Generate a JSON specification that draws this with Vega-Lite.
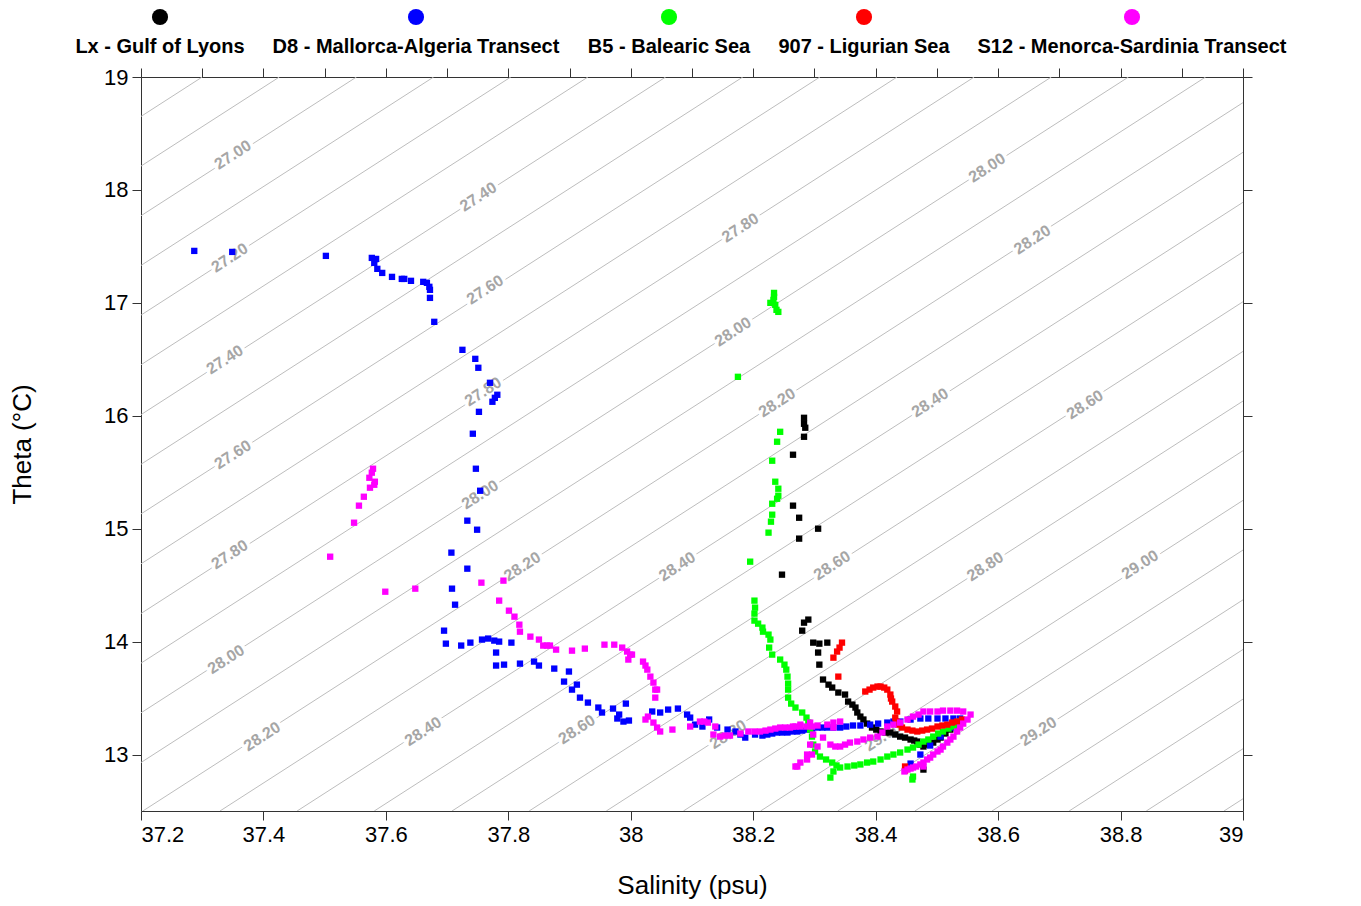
{
  "$schema": "https://vega.github.io/schema/vega-lite/v6.json",
  "width": 1102,
  "height": 734,
  "autosize": {"type": "none"},
  "padding": {"left": 141, "top": 77, "right": 118, "bottom": 95},
  "background": "white",
  "config": {
    "view": {"stroke": null},
    "font": "Liberation Sans",
    "axis": {
      "domainColor": "#333333", "tickColor": "#333333", "tickSize": 9, "tickWidth": 1, "domainWidth": 1,
      "grid": false, "labelFont": "Liberation Sans", "labelFontSize": 22, "labelColor": "#000000",
      "titleFont": "Liberation Sans", "titleFontSize": 26, "titleFontWeight": "normal", "titleColor": "#000000",
      "labelPadding": 4
    }
  },
  "datasets": {
    "iso": [
      {"sig": 26.8, "s": 35.438, "t": 12.5}, {"sig": 26.8, "s": 37.300, "t": 19},
      {"sig": 26.9, "s": 35.564, "t": 12.5}, {"sig": 26.9, "s": 37.426, "t": 19},
      {"sig": 27.0, "s": 35.690, "t": 12.5}, {"sig": 27.0, "s": 37.552, "t": 19},
      {"sig": 27.1, "s": 35.816, "t": 12.5}, {"sig": 27.1, "s": 37.678, "t": 19},
      {"sig": 27.2, "s": 35.942, "t": 12.5}, {"sig": 27.2, "s": 37.804, "t": 19},
      {"sig": 27.3, "s": 36.068, "t": 12.5}, {"sig": 27.3, "s": 37.930, "t": 19},
      {"sig": 27.4, "s": 36.194, "t": 12.5}, {"sig": 27.4, "s": 38.057, "t": 19},
      {"sig": 27.5, "s": 36.320, "t": 12.5}, {"sig": 27.5, "s": 38.183, "t": 19},
      {"sig": 27.6, "s": 36.446, "t": 12.5}, {"sig": 27.6, "s": 38.309, "t": 19},
      {"sig": 27.7, "s": 36.573, "t": 12.5}, {"sig": 27.7, "s": 38.435, "t": 19},
      {"sig": 27.8, "s": 36.699, "t": 12.5}, {"sig": 27.8, "s": 38.561, "t": 19},
      {"sig": 27.9, "s": 36.825, "t": 12.5}, {"sig": 27.9, "s": 38.687, "t": 19},
      {"sig": 28.0, "s": 36.951, "t": 12.5}, {"sig": 28.0, "s": 38.813, "t": 19},
      {"sig": 28.1, "s": 37.077, "t": 12.5}, {"sig": 28.1, "s": 38.939, "t": 19},
      {"sig": 28.2, "s": 37.203, "t": 12.5}, {"sig": 28.2, "s": 39.065, "t": 19},
      {"sig": 28.3, "s": 37.329, "t": 12.5}, {"sig": 28.3, "s": 39.191, "t": 19},
      {"sig": 28.4, "s": 37.455, "t": 12.5}, {"sig": 28.4, "s": 39.318, "t": 19},
      {"sig": 28.5, "s": 37.581, "t": 12.5}, {"sig": 28.5, "s": 39.444, "t": 19},
      {"sig": 28.6, "s": 37.708, "t": 12.5}, {"sig": 28.6, "s": 39.570, "t": 19},
      {"sig": 28.7, "s": 37.834, "t": 12.5}, {"sig": 28.7, "s": 39.696, "t": 19},
      {"sig": 28.8, "s": 37.960, "t": 12.5}, {"sig": 28.8, "s": 39.822, "t": 19},
      {"sig": 28.9, "s": 38.086, "t": 12.5}, {"sig": 28.9, "s": 39.948, "t": 19},
      {"sig": 29.0, "s": 38.212, "t": 12.5}, {"sig": 29.0, "s": 40.074, "t": 19},
      {"sig": 29.1, "s": 38.338, "t": 12.5}, {"sig": 29.1, "s": 40.200, "t": 19},
      {"sig": 29.2, "s": 38.464, "t": 12.5}, {"sig": 29.2, "s": 40.327, "t": 19},
      {"sig": 29.3, "s": 38.590, "t": 12.5}, {"sig": 29.3, "s": 40.453, "t": 19},
      {"sig": 29.4, "s": 38.716, "t": 12.5}, {"sig": 29.4, "s": 40.579, "t": 19},
      {"sig": 29.5, "s": 38.842, "t": 12.5}, {"sig": 29.5, "s": 40.705, "t": 19},
      {"sig": 29.6, "s": 38.969, "t": 12.5}, {"sig": 29.6, "s": 40.831, "t": 19}
    ],
    "labels": [
      {"lab": "27.00", "s": 37.350, "t": 18.310},
      {"lab": "27.20", "s": 37.345, "t": 17.398},
      {"lab": "27.40", "s": 37.337, "t": 16.496},
      {"lab": "27.60", "s": 37.350, "t": 15.655},
      {"lab": "27.80", "s": 37.345, "t": 14.770},
      {"lab": "28.00", "s": 37.339, "t": 13.841},
      {"lab": "28.20", "s": 37.398, "t": 13.159},
      {"lab": "27.40", "s": 37.751, "t": 17.938},
      {"lab": "27.60", "s": 37.762, "t": 17.115},
      {"lab": "27.80", "s": 37.759, "t": 16.212},
      {"lab": "28.00", "s": 37.754, "t": 15.301},
      {"lab": "28.20", "s": 37.823, "t": 14.664},
      {"lab": "28.40", "s": 37.661, "t": 13.204},
      {"lab": "27.80", "s": 38.179, "t": 17.664},
      {"lab": "28.00", "s": 38.167, "t": 16.743},
      {"lab": "28.20", "s": 38.239, "t": 16.115},
      {"lab": "28.40", "s": 38.489, "t": 16.115},
      {"lab": "28.40", "s": 38.076, "t": 14.664},
      {"lab": "28.60", "s": 38.329, "t": 14.673},
      {"lab": "28.80", "s": 38.579, "t": 14.664},
      {"lab": "29.00", "s": 38.832, "t": 14.681},
      {"lab": "28.60", "s": 37.912, "t": 13.221},
      {"lab": "28.80", "s": 38.159, "t": 13.177},
      {"lab": "29.00", "s": 38.412, "t": 13.159},
      {"lab": "29.20", "s": 38.666, "t": 13.204},
      {"lab": "28.00", "s": 38.582, "t": 18.195},
      {"lab": "28.20", "s": 38.656, "t": 17.558},
      {"lab": "28.60", "s": 38.742, "t": 16.097}
    ],
    "pts": [
      {"k": "Lx", "s": 38.283, "t": 15.982}, {"k": "Lx", "s": 38.283, "t": 15.929}, {"k": "Lx", "s": 38.285, "t": 15.894},
      {"k": "Lx", "s": 38.283, "t": 15.814}, {"k": "Lx", "s": 38.265, "t": 15.655}, {"k": "Lx", "s": 38.265, "t": 15.204},
      {"k": "Lx", "s": 38.275, "t": 15.097}, {"k": "Lx", "s": 38.306, "t": 15.000}, {"k": "Lx", "s": 38.275, "t": 14.912},
      {"k": "Lx", "s": 38.247, "t": 14.593}, {"k": "Lx", "s": 38.283, "t": 14.168}, {"k": "Lx", "s": 38.290, "t": 14.195},
      {"k": "Lx", "s": 38.280, "t": 14.097}, {"k": "Lx", "s": 38.298, "t": 13.991}, {"k": "Lx", "s": 38.308, "t": 13.982},
      {"k": "Lx", "s": 38.321, "t": 13.991}, {"k": "Lx", "s": 38.306, "t": 13.903}, {"k": "Lx", "s": 38.308, "t": 13.796},
      {"k": "Lx", "s": 38.314, "t": 13.664}, {"k": "Lx", "s": 38.323, "t": 13.619}, {"k": "Lx", "s": 38.329, "t": 13.593},
      {"k": "Lx", "s": 38.339, "t": 13.549}, {"k": "Lx", "s": 38.350, "t": 13.531}, {"k": "Lx", "s": 38.355, "t": 13.469},
      {"k": "Lx", "s": 38.362, "t": 13.442}, {"k": "Lx", "s": 38.367, "t": 13.416}, {"k": "Lx", "s": 38.370, "t": 13.372},
      {"k": "Lx", "s": 38.375, "t": 13.336}, {"k": "Lx", "s": 38.380, "t": 13.310}, {"k": "Lx", "s": 38.386, "t": 13.274},
      {"k": "Lx", "s": 38.394, "t": 13.239}, {"k": "Lx", "s": 38.401, "t": 13.221}, {"k": "Lx", "s": 38.408, "t": 13.204},
      {"k": "Lx", "s": 38.416, "t": 13.195}, {"k": "Lx", "s": 38.424, "t": 13.195}, {"k": "Lx", "s": 38.432, "t": 13.177},
      {"k": "Lx", "s": 38.440, "t": 13.159}, {"k": "Lx", "s": 38.448, "t": 13.150}, {"k": "Lx", "s": 38.457, "t": 13.133},
      {"k": "Lx", "s": 38.463, "t": 13.124}, {"k": "Lx", "s": 38.468, "t": 13.115}, {"k": "Lx", "s": 38.473, "t": 13.088},
      {"k": "Lx", "s": 38.478, "t": 13.071}, {"k": "Lx", "s": 38.486, "t": 13.088}, {"k": "Lx", "s": 38.494, "t": 13.106},
      {"k": "Lx", "s": 38.501, "t": 13.133}, {"k": "Lx", "s": 38.506, "t": 13.150}, {"k": "Lx", "s": 38.514, "t": 13.186},
      {"k": "Lx", "s": 38.522, "t": 13.221}, {"k": "Lx", "s": 38.527, "t": 13.248}, {"k": "Lx", "s": 38.478, "t": 12.867},

      {"k": "D8", "s": 37.287, "t": 17.460}, {"k": "D8", "s": 37.349, "t": 17.451}, {"k": "D8", "s": 37.502, "t": 17.416},
      {"k": "D8", "s": 37.577, "t": 17.398}, {"k": "D8", "s": 37.584, "t": 17.389}, {"k": "D8", "s": 37.581, "t": 17.354},
      {"k": "D8", "s": 37.586, "t": 17.301}, {"k": "D8", "s": 37.594, "t": 17.265}, {"k": "D8", "s": 37.610, "t": 17.230},
      {"k": "D8", "s": 37.626, "t": 17.212}, {"k": "D8", "s": 37.630, "t": 17.212}, {"k": "D8", "s": 37.641, "t": 17.195},
      {"k": "D8", "s": 37.661, "t": 17.186}, {"k": "D8", "s": 37.667, "t": 17.177}, {"k": "D8", "s": 37.671, "t": 17.142},
      {"k": "D8", "s": 37.672, "t": 17.115}, {"k": "D8", "s": 37.672, "t": 17.044}, {"k": "D8", "s": 37.679, "t": 16.832},
      {"k": "D8", "s": 37.725, "t": 16.584}, {"k": "D8", "s": 37.746, "t": 16.504}, {"k": "D8", "s": 37.751, "t": 16.425},
      {"k": "D8", "s": 37.770, "t": 16.292}, {"k": "D8", "s": 37.782, "t": 16.186}, {"k": "D8", "s": 37.778, "t": 16.159},
      {"k": "D8", "s": 37.774, "t": 16.124}, {"k": "D8", "s": 37.752, "t": 16.035}, {"k": "D8", "s": 37.742, "t": 15.841},
      {"k": "D8", "s": 37.747, "t": 15.531}, {"k": "D8", "s": 37.754, "t": 15.336}, {"k": "D8", "s": 37.733, "t": 15.071},
      {"k": "D8", "s": 37.749, "t": 14.991}, {"k": "D8", "s": 37.707, "t": 14.788}, {"k": "D8", "s": 37.733, "t": 14.646},
      {"k": "D8", "s": 37.708, "t": 14.469}, {"k": "D8", "s": 37.713, "t": 14.327}, {"k": "D8", "s": 37.695, "t": 14.097},
      {"k": "D8", "s": 37.698, "t": 13.982}, {"k": "D8", "s": 37.723, "t": 13.965}, {"k": "D8", "s": 37.738, "t": 13.991},
      {"k": "D8", "s": 37.757, "t": 14.018}, {"k": "D8", "s": 37.767, "t": 14.027}, {"k": "D8", "s": 37.777, "t": 14.009},
      {"k": "D8", "s": 37.785, "t": 14.000}, {"k": "D8", "s": 37.780, "t": 13.903}, {"k": "D8", "s": 37.780, "t": 13.788},
      {"k": "D8", "s": 37.793, "t": 13.796}, {"k": "D8", "s": 37.805, "t": 13.991}, {"k": "D8", "s": 37.819, "t": 13.805},
      {"k": "D8", "s": 37.842, "t": 13.823}, {"k": "D8", "s": 37.850, "t": 13.788}, {"k": "D8", "s": 37.875, "t": 13.761},
      {"k": "D8", "s": 37.899, "t": 13.735}, {"k": "D8", "s": 37.891, "t": 13.646}, {"k": "D8", "s": 37.912, "t": 13.619},
      {"k": "D8", "s": 37.904, "t": 13.575}, {"k": "D8", "s": 37.917, "t": 13.504}, {"k": "D8", "s": 37.930, "t": 13.460},
      {"k": "D8", "s": 37.947, "t": 13.416}, {"k": "D8", "s": 37.953, "t": 13.372}, {"k": "D8", "s": 37.971, "t": 13.407},
      {"k": "D8", "s": 37.981, "t": 13.354}, {"k": "D8", "s": 37.978, "t": 13.319}, {"k": "D8", "s": 37.988, "t": 13.292},
      {"k": "D8", "s": 37.997, "t": 13.301}, {"k": "D8", "s": 37.992, "t": 13.451}, {"k": "D8", "s": 38.035, "t": 13.381},
      {"k": "D8", "s": 38.048, "t": 13.372}, {"k": "D8", "s": 38.061, "t": 13.398}, {"k": "D8", "s": 38.077, "t": 13.407},
      {"k": "D8", "s": 38.092, "t": 13.354}, {"k": "D8", "s": 38.097, "t": 13.327}, {"k": "D8", "s": 38.105, "t": 13.265},
      {"k": "D8", "s": 38.117, "t": 13.248}, {"k": "D8", "s": 38.128, "t": 13.310}, {"k": "D8", "s": 38.141, "t": 13.239},
      {"k": "D8", "s": 38.158, "t": 13.221}, {"k": "D8", "s": 38.171, "t": 13.204}, {"k": "D8", "s": 38.179, "t": 13.177},
      {"k": "D8", "s": 38.187, "t": 13.150}, {"k": "D8", "s": 38.203, "t": 13.177}, {"k": "D8", "s": 38.215, "t": 13.168},
      {"k": "D8", "s": 38.223, "t": 13.177}, {"k": "D8", "s": 38.231, "t": 13.186}, {"k": "D8", "s": 38.239, "t": 13.195},
      {"k": "D8", "s": 38.247, "t": 13.195}, {"k": "D8", "s": 38.256, "t": 13.195}, {"k": "D8", "s": 38.264, "t": 13.204},
      {"k": "D8", "s": 38.272, "t": 13.204}, {"k": "D8", "s": 38.280, "t": 13.212}, {"k": "D8", "s": 38.288, "t": 13.221},
      {"k": "D8", "s": 38.296, "t": 13.230}, {"k": "D8", "s": 38.305, "t": 13.239}, {"k": "D8", "s": 38.313, "t": 13.239},
      {"k": "D8", "s": 38.321, "t": 13.239}, {"k": "D8", "s": 38.331, "t": 13.239}, {"k": "D8", "s": 38.342, "t": 13.239},
      {"k": "D8", "s": 38.352, "t": 13.248}, {"k": "D8", "s": 38.363, "t": 13.257}, {"k": "D8", "s": 38.375, "t": 13.257},
      {"k": "D8", "s": 38.391, "t": 13.265}, {"k": "D8", "s": 38.404, "t": 13.274}, {"k": "D8", "s": 38.419, "t": 13.283},
      {"k": "D8", "s": 38.429, "t": 13.292}, {"k": "D8", "s": 38.440, "t": 13.292}, {"k": "D8", "s": 38.457, "t": 13.310},
      {"k": "D8", "s": 38.473, "t": 13.319}, {"k": "D8", "s": 38.486, "t": 13.319}, {"k": "D8", "s": 38.501, "t": 13.319},
      {"k": "D8", "s": 38.514, "t": 13.319}, {"k": "D8", "s": 38.527, "t": 13.319}, {"k": "D8", "s": 38.538, "t": 13.319},
      {"k": "D8", "s": 38.522, "t": 13.239}, {"k": "D8", "s": 38.506, "t": 13.159}, {"k": "D8", "s": 38.489, "t": 13.080},
      {"k": "D8", "s": 38.473, "t": 13.000}, {"k": "D8", "s": 38.457, "t": 12.920},

      {"k": "B5", "s": 38.234, "t": 17.088}, {"k": "B5", "s": 38.234, "t": 17.053}, {"k": "B5", "s": 38.233, "t": 17.027},
      {"k": "B5", "s": 38.228, "t": 17.000}, {"k": "B5", "s": 38.236, "t": 16.982}, {"k": "B5", "s": 38.238, "t": 16.938},
      {"k": "B5", "s": 38.241, "t": 16.920}, {"k": "B5", "s": 38.175, "t": 16.345}, {"k": "B5", "s": 38.244, "t": 15.858},
      {"k": "B5", "s": 38.239, "t": 15.770}, {"k": "B5", "s": 38.231, "t": 15.602}, {"k": "B5", "s": 38.236, "t": 15.416},
      {"k": "B5", "s": 38.241, "t": 15.354}, {"k": "B5", "s": 38.241, "t": 15.292}, {"k": "B5", "s": 38.239, "t": 15.265},
      {"k": "B5", "s": 38.231, "t": 15.221}, {"k": "B5", "s": 38.231, "t": 15.124}, {"k": "B5", "s": 38.229, "t": 15.062},
      {"k": "B5", "s": 38.225, "t": 14.965}, {"k": "B5", "s": 38.195, "t": 14.708}, {"k": "B5", "s": 38.202, "t": 14.363},
      {"k": "B5", "s": 38.203, "t": 14.301}, {"k": "B5", "s": 38.202, "t": 14.248}, {"k": "B5", "s": 38.202, "t": 14.186},
      {"k": "B5", "s": 38.208, "t": 14.159}, {"k": "B5", "s": 38.215, "t": 14.124}, {"k": "B5", "s": 38.216, "t": 14.088},
      {"k": "B5", "s": 38.225, "t": 14.062}, {"k": "B5", "s": 38.228, "t": 14.018}, {"k": "B5", "s": 38.226, "t": 13.947},
      {"k": "B5", "s": 38.231, "t": 13.885}, {"k": "B5", "s": 38.244, "t": 13.841}, {"k": "B5", "s": 38.251, "t": 13.796},
      {"k": "B5", "s": 38.254, "t": 13.752}, {"k": "B5", "s": 38.256, "t": 13.690}, {"k": "B5", "s": 38.257, "t": 13.628},
      {"k": "B5", "s": 38.257, "t": 13.575}, {"k": "B5", "s": 38.257, "t": 13.504}, {"k": "B5", "s": 38.262, "t": 13.451},
      {"k": "B5", "s": 38.269, "t": 13.416}, {"k": "B5", "s": 38.280, "t": 13.372}, {"k": "B5", "s": 38.287, "t": 13.327},
      {"k": "B5", "s": 38.290, "t": 13.283}, {"k": "B5", "s": 38.293, "t": 13.221}, {"k": "B5", "s": 38.296, "t": 13.159},
      {"k": "B5", "s": 38.298, "t": 13.088}, {"k": "B5", "s": 38.301, "t": 13.027}, {"k": "B5", "s": 38.309, "t": 12.982},
      {"k": "B5", "s": 38.319, "t": 12.956}, {"k": "B5", "s": 38.329, "t": 12.929}, {"k": "B5", "s": 38.336, "t": 12.903},
      {"k": "B5", "s": 38.331, "t": 12.850}, {"k": "B5", "s": 38.326, "t": 12.796}, {"k": "B5", "s": 38.342, "t": 12.885},
      {"k": "B5", "s": 38.354, "t": 12.894}, {"k": "B5", "s": 38.365, "t": 12.903}, {"k": "B5", "s": 38.375, "t": 12.912},
      {"k": "B5", "s": 38.386, "t": 12.929}, {"k": "B5", "s": 38.396, "t": 12.938}, {"k": "B5", "s": 38.408, "t": 12.956},
      {"k": "B5", "s": 38.419, "t": 12.982}, {"k": "B5", "s": 38.429, "t": 13.000}, {"k": "B5", "s": 38.440, "t": 13.018},
      {"k": "B5", "s": 38.452, "t": 13.044}, {"k": "B5", "s": 38.461, "t": 13.062}, {"k": "B5", "s": 38.470, "t": 13.088},
      {"k": "B5", "s": 38.478, "t": 13.115}, {"k": "B5", "s": 38.486, "t": 13.133}, {"k": "B5", "s": 38.494, "t": 13.159},
      {"k": "B5", "s": 38.502, "t": 13.186}, {"k": "B5", "s": 38.510, "t": 13.204}, {"k": "B5", "s": 38.519, "t": 13.230},
      {"k": "B5", "s": 38.527, "t": 13.248}, {"k": "B5", "s": 38.535, "t": 13.274}, {"k": "B5", "s": 38.538, "t": 13.292},
      {"k": "B5", "s": 38.461, "t": 12.805}, {"k": "B5", "s": 38.460, "t": 12.779},

      {"k": "907", "s": 38.345, "t": 13.991}, {"k": "907", "s": 38.341, "t": 13.947}, {"k": "907", "s": 38.337, "t": 13.912},
      {"k": "907", "s": 38.331, "t": 13.858}, {"k": "907", "s": 38.339, "t": 13.690}, {"k": "907", "s": 38.383, "t": 13.558},
      {"k": "907", "s": 38.390, "t": 13.575}, {"k": "907", "s": 38.396, "t": 13.593}, {"k": "907", "s": 38.403, "t": 13.602},
      {"k": "907", "s": 38.408, "t": 13.602}, {"k": "907", "s": 38.414, "t": 13.593}, {"k": "907", "s": 38.419, "t": 13.575},
      {"k": "907", "s": 38.424, "t": 13.531}, {"k": "907", "s": 38.425, "t": 13.496}, {"k": "907", "s": 38.427, "t": 13.469},
      {"k": "907", "s": 38.432, "t": 13.425}, {"k": "907", "s": 38.435, "t": 13.381}, {"k": "907", "s": 38.432, "t": 13.327},
      {"k": "907", "s": 38.434, "t": 13.292}, {"k": "907", "s": 38.437, "t": 13.265}, {"k": "907", "s": 38.443, "t": 13.239},
      {"k": "907", "s": 38.452, "t": 13.221}, {"k": "907", "s": 38.460, "t": 13.212}, {"k": "907", "s": 38.468, "t": 13.204},
      {"k": "907", "s": 38.476, "t": 13.212}, {"k": "907", "s": 38.484, "t": 13.221}, {"k": "907", "s": 38.492, "t": 13.230},
      {"k": "907", "s": 38.501, "t": 13.248}, {"k": "907", "s": 38.509, "t": 13.257}, {"k": "907", "s": 38.517, "t": 13.265},
      {"k": "907", "s": 38.525, "t": 13.283}, {"k": "907", "s": 38.533, "t": 13.292}, {"k": "907", "s": 38.541, "t": 13.310},
      {"k": "907", "s": 38.448, "t": 12.894}, {"k": "907", "s": 38.448, "t": 12.858},

      {"k": "S12", "s": 37.579, "t": 15.531}, {"k": "S12", "s": 37.577, "t": 15.496}, {"k": "S12", "s": 37.573, "t": 15.451},
      {"k": "S12", "s": 37.582, "t": 15.416}, {"k": "S12", "s": 37.574, "t": 15.363}, {"k": "S12", "s": 37.581, "t": 15.389},
      {"k": "S12", "s": 37.564, "t": 15.283}, {"k": "S12", "s": 37.556, "t": 15.204}, {"k": "S12", "s": 37.548, "t": 15.053},
      {"k": "S12", "s": 37.509, "t": 14.752}, {"k": "S12", "s": 37.599, "t": 14.442}, {"k": "S12", "s": 37.648, "t": 14.469},
      {"k": "S12", "s": 37.756, "t": 14.522}, {"k": "S12", "s": 37.792, "t": 14.540}, {"k": "S12", "s": 37.785, "t": 14.363},
      {"k": "S12", "s": 37.801, "t": 14.274}, {"k": "S12", "s": 37.810, "t": 14.221}, {"k": "S12", "s": 37.818, "t": 14.150},
      {"k": "S12", "s": 37.819, "t": 14.088}, {"k": "S12", "s": 37.836, "t": 14.044}, {"k": "S12", "s": 37.850, "t": 14.018},
      {"k": "S12", "s": 37.857, "t": 13.965}, {"k": "S12", "s": 37.863, "t": 13.965}, {"k": "S12", "s": 37.868, "t": 13.965},
      {"k": "S12", "s": 37.878, "t": 13.929}, {"k": "S12", "s": 37.904, "t": 13.920}, {"k": "S12", "s": 37.925, "t": 13.938},
      {"k": "S12", "s": 37.957, "t": 13.973}, {"k": "S12", "s": 37.973, "t": 13.973}, {"k": "S12", "s": 37.986, "t": 13.947},
      {"k": "S12", "s": 37.994, "t": 13.912}, {"k": "S12", "s": 37.999, "t": 13.885}, {"k": "S12", "s": 38.002, "t": 13.885},
      {"k": "S12", "s": 37.996, "t": 13.841}, {"k": "S12", "s": 38.020, "t": 13.823}, {"k": "S12", "s": 38.024, "t": 13.788},
      {"k": "S12", "s": 38.027, "t": 13.752}, {"k": "S12", "s": 38.032, "t": 13.690}, {"k": "S12", "s": 38.037, "t": 13.637},
      {"k": "S12", "s": 38.040, "t": 13.575}, {"k": "S12", "s": 38.043, "t": 13.575}, {"k": "S12", "s": 38.040, "t": 13.504},
      {"k": "S12", "s": 38.028, "t": 13.336}, {"k": "S12", "s": 38.024, "t": 13.310}, {"k": "S12", "s": 38.037, "t": 13.283},
      {"k": "S12", "s": 38.043, "t": 13.239}, {"k": "S12", "s": 38.048, "t": 13.204}, {"k": "S12", "s": 38.068, "t": 13.221},
      {"k": "S12", "s": 38.097, "t": 13.248}, {"k": "S12", "s": 38.113, "t": 13.292}, {"k": "S12", "s": 38.120, "t": 13.292},
      {"k": "S12", "s": 38.126, "t": 13.283}, {"k": "S12", "s": 38.138, "t": 13.248}, {"k": "S12", "s": 38.135, "t": 13.177},
      {"k": "S12", "s": 38.146, "t": 13.159}, {"k": "S12", "s": 38.154, "t": 13.168}, {"k": "S12", "s": 38.162, "t": 13.168},
      {"k": "S12", "s": 38.179, "t": 13.186}, {"k": "S12", "s": 38.192, "t": 13.204}, {"k": "S12", "s": 38.202, "t": 13.204},
      {"k": "S12", "s": 38.211, "t": 13.204}, {"k": "S12", "s": 38.220, "t": 13.212}, {"k": "S12", "s": 38.228, "t": 13.221},
      {"k": "S12", "s": 38.236, "t": 13.230}, {"k": "S12", "s": 38.244, "t": 13.239}, {"k": "S12", "s": 38.252, "t": 13.239},
      {"k": "S12", "s": 38.260, "t": 13.239}, {"k": "S12", "s": 38.269, "t": 13.248}, {"k": "S12", "s": 38.277, "t": 13.248},
      {"k": "S12", "s": 38.287, "t": 13.248}, {"k": "S12", "s": 38.296, "t": 13.248}, {"k": "S12", "s": 38.298, "t": 13.177},
      {"k": "S12", "s": 38.293, "t": 13.088}, {"k": "S12", "s": 38.288, "t": 13.000}, {"k": "S12", "s": 38.277, "t": 12.929},
      {"k": "S12", "s": 38.269, "t": 12.894}, {"k": "S12", "s": 38.265, "t": 13.248}, {"k": "S12", "s": 38.277, "t": 13.265},
      {"k": "S12", "s": 38.293, "t": 13.283}, {"k": "S12", "s": 38.305, "t": 13.257}, {"k": "S12", "s": 38.321, "t": 13.265},
      {"k": "S12", "s": 38.331, "t": 13.283}, {"k": "S12", "s": 38.342, "t": 13.292}, {"k": "S12", "s": 38.331, "t": 13.239},
      {"k": "S12", "s": 38.314, "t": 13.150}, {"k": "S12", "s": 38.305, "t": 13.071}, {"k": "S12", "s": 38.296, "t": 13.000},
      {"k": "S12", "s": 38.288, "t": 12.956}, {"k": "S12", "s": 38.272, "t": 12.894}, {"k": "S12", "s": 38.326, "t": 13.088},
      {"k": "S12", "s": 38.334, "t": 13.071}, {"k": "S12", "s": 38.342, "t": 13.071}, {"k": "S12", "s": 38.350, "t": 13.088},
      {"k": "S12", "s": 38.358, "t": 13.106}, {"k": "S12", "s": 38.370, "t": 13.115}, {"k": "S12", "s": 38.380, "t": 13.133},
      {"k": "S12", "s": 38.391, "t": 13.150}, {"k": "S12", "s": 38.403, "t": 13.159}, {"k": "S12", "s": 38.411, "t": 13.195},
      {"k": "S12", "s": 38.419, "t": 13.248}, {"k": "S12", "s": 38.429, "t": 13.265}, {"k": "S12", "s": 38.440, "t": 13.283},
      {"k": "S12", "s": 38.452, "t": 13.310}, {"k": "S12", "s": 38.461, "t": 13.336}, {"k": "S12", "s": 38.470, "t": 13.354},
      {"k": "S12", "s": 38.478, "t": 13.381}, {"k": "S12", "s": 38.489, "t": 13.381}, {"k": "S12", "s": 38.501, "t": 13.381},
      {"k": "S12", "s": 38.510, "t": 13.389}, {"k": "S12", "s": 38.522, "t": 13.389}, {"k": "S12", "s": 38.533, "t": 13.389},
      {"k": "S12", "s": 38.543, "t": 13.381}, {"k": "S12", "s": 38.555, "t": 13.354}, {"k": "S12", "s": 38.550, "t": 13.310},
      {"k": "S12", "s": 38.543, "t": 13.274}, {"k": "S12", "s": 38.538, "t": 13.239}, {"k": "S12", "s": 38.533, "t": 13.204},
      {"k": "S12", "s": 38.527, "t": 13.159}, {"k": "S12", "s": 38.522, "t": 13.133}, {"k": "S12", "s": 38.517, "t": 13.106},
      {"k": "S12", "s": 38.510, "t": 13.071}, {"k": "S12", "s": 38.506, "t": 13.044}, {"k": "S12", "s": 38.501, "t": 13.027},
      {"k": "S12", "s": 38.494, "t": 13.000}, {"k": "S12", "s": 38.489, "t": 12.973}, {"k": "S12", "s": 38.484, "t": 12.956},
      {"k": "S12", "s": 38.478, "t": 12.929}, {"k": "S12", "s": 38.473, "t": 12.912}, {"k": "S12", "s": 38.466, "t": 12.894},
      {"k": "S12", "s": 38.461, "t": 12.885}, {"k": "S12", "s": 38.457, "t": 12.876}, {"k": "S12", "s": 38.452, "t": 12.867},
      {"k": "S12", "s": 38.447, "t": 12.850}, {"k": "S12", "s": 38.478, "t": 12.894}
    ]
  },
  "layer": [
    {
      "data": {"name": "iso"},
      "mark": {"type": "line", "clip": true, "color": "#bdbdbd", "strokeWidth": 1},
      "encoding": {
        "x": {"field": "s", "type": "quantitative", "scale": {"domain": [37.2, 39], "nice": false, "zero": false},
              "axis": {"orient": "bottom", "values": [37.2, 37.4, 37.6, 37.8, 38, 38.2, 38.4, 38.6, 38.8, 39], "format": "~g", "title": "Salinity (psu)", "titlePadding": 27}},
        "y": {"field": "t", "type": "quantitative", "scale": {"domain": [12.5, 19], "nice": false, "zero": false},
              "axis": {"orient": "left", "values": [13, 14, 15, 16, 17, 18, 19], "format": "d", "title": "Theta (°C)", "titlePadding": 68}},
        "detail": {"field": "sig", "type": "nominal"}
      }
    },
    {
      "data": {"name": "labels"},
      "mark": {"type": "text", "angle": 327.2, "font": "Liberation Sans", "fontSize": 16, "fontWeight": "bold", "color": "white", "stroke": "white", "strokeWidth": 7, "strokeJoin": "round", "align": "center", "baseline": "middle"},
      "encoding": {
        "x": {"field": "s", "type": "quantitative", "scale": {"domain": [37.2, 39], "nice": false, "zero": false},
              "axis": {"orient": "top", "values": [37.2, 37.3, 37.4, 37.5, 37.6, 37.7, 37.8, 37.9, 38, 38.1, 38.2, 38.3, 38.4, 38.5, 38.6, 38.7, 38.8, 38.9, 39], "labels": false, "title": null}},
        "y": {"field": "t", "type": "quantitative", "scale": {"domain": [12.5, 19], "nice": false, "zero": false},
              "axis": {"orient": "right", "values": [13, 14, 15, 16, 17, 18, 19], "labels": false, "title": null}},
        "text": {"field": "lab", "type": "nominal"}
      }
    },
    {
      "data": {"name": "labels"},
      "mark": {"type": "text", "angle": 327.2, "font": "Liberation Sans", "fontSize": 16, "fontWeight": "bold", "color": "#a6a6a6", "align": "center", "baseline": "middle"},
      "encoding": {
        "x": {"field": "s", "type": "quantitative", "scale": {"domain": [37.2, 39], "nice": false, "zero": false}, "axis": null},
        "y": {"field": "t", "type": "quantitative", "scale": {"domain": [12.5, 19], "nice": false, "zero": false}, "axis": null},
        "text": {"field": "lab", "type": "nominal"}
      }
    },
    {
      "data": {"name": "pts"},
      "mark": {"type": "point", "shape": "square", "filled": true, "size": 40, "opacity": 1},
      "encoding": {
        "x": {"field": "s", "type": "quantitative", "scale": {"domain": [37.2, 39], "nice": false, "zero": false}, "axis": null},
        "y": {"field": "t", "type": "quantitative", "scale": {"domain": [12.5, 19], "nice": false, "zero": false}, "axis": null},
        "color": {
          "field": "k", "type": "nominal",
          "scale": {"domain": ["Lx", "D8", "B5", "907", "S12"], "range": ["#000000", "#0000ff", "#00ff00", "#ff0000", "#ff00ff"]},
          "legend": {
            "orient": "none", "legendX": 9, "legendY": -70, "direction": "horizontal", "title": null, "padding": 0,
            "symbolType": "circle", "symbolSize": 260, "symbolStrokeWidth": 0, "symbolOpacity": 1,
            "labelFont": "Liberation Sans", "labelFontSize": 20, "labelFontWeight": "bold", "labelColor": "#000000",
            "labelAlign": "center", "labelOffset": -10, "columnPadding": 27, "labelLimit": 0,
            "labelExpr": "datum.label == 'Lx' ? 'Lx - Gulf of Lyons' : datum.label == 'D8' ? 'D8 - Mallorca-Algeria Transect' : datum.label == 'B5' ? 'B5 - Balearic Sea' : datum.label == '907' ? '907 - Ligurian Sea' : 'S12 - Menorca-Sardinia Transect'",
            "encode": {"labels": {"update": {"dy": {"value": 30}}}}
          }
        }
      }
    }
  ],
  "resolve": {"axis": {"x": "independent", "y": "independent"}}
}
